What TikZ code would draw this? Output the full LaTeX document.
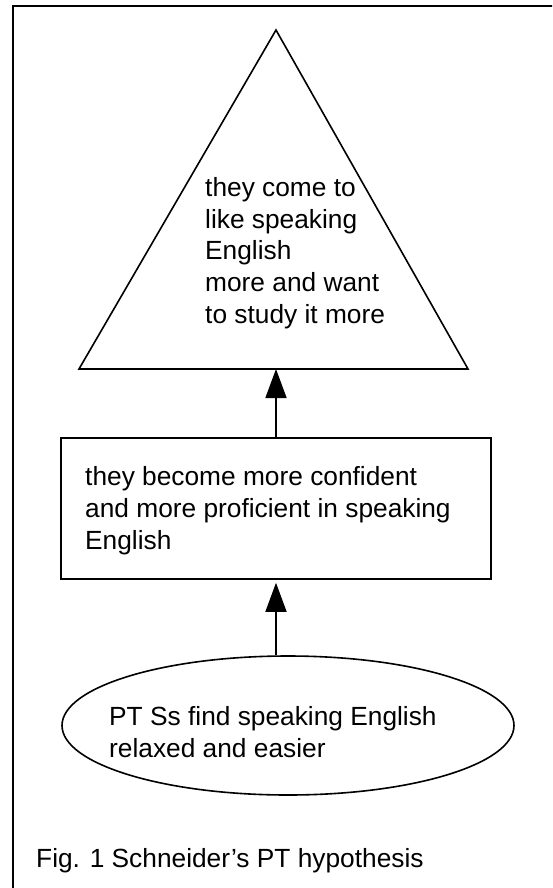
\documentclass[tikz,border=0pt]{standalone}
\usepackage{fontspec}
\setmainfont{Liberation Sans}
\usetikzlibrary{shapes.geometric,arrows.meta}
\tikzset{
  shape line/.style={draw=black, line width=1.6pt},
  txt/.style={anchor=base west, inner sep=0pt, align=left,
    font=\fontsize{26.3}{31.6}\selectfont},
  uparrow/.style={line width=1.6pt, -{Triangle[length=29pt,width=21pt]}},
}
\begin{document}
\begin{tikzpicture}[x=1pt,y=-1pt]
\useasboundingbox (0,0) rectangle (552,888);
\clip (0,0) rectangle (552,888);
% outer frame (only top and left edges fall inside the picture)
\draw[line width=2.2pt] (13,900) -- (13,6) -- (570,6);
% triangle
\coordinate (apex) at (276,30);
\coordinate (triL) at (79,369);
\coordinate (triR) at (468,369);
\coordinate (triB) at (276,369);
\draw[shape line, line join=miter] (apex) -- (triL) -- (triR) -- cycle;
% multi-line nodes: base anchor sits on the last line's baseline
\node[txt] (toptext) at (205,323.1) {they come to\\like speaking\\English\\more and want\\to study it more};
% rectangle
\node[shape line, rectangle, minimum width=430pt, minimum height=141pt, inner sep=0pt] (mid) at (276,508.5) {};
\node[txt] (midtext) at (85,549) {they become more confident\\and more proficient in speaking\\English};
% ellipse
\node[shape line, ellipse, minimum width=452pt, minimum height=139pt, inner sep=0pt] (bot) at (288,725.5) {};
\node[txt] (bottext) at (109,757) {PT Ss find speaking English\\relaxed and easier};
% arrows
\draw[uparrow] (mid.north) -- (triB);
\draw[uparrow, shorten >=3pt] (bot.north -| mid.south) -- (mid.south);
% caption
\node[txt] (caption) at (36,867) {Fig. 1 Schneider’s PT hypothesis};
\end{tikzpicture}
\end{document}
